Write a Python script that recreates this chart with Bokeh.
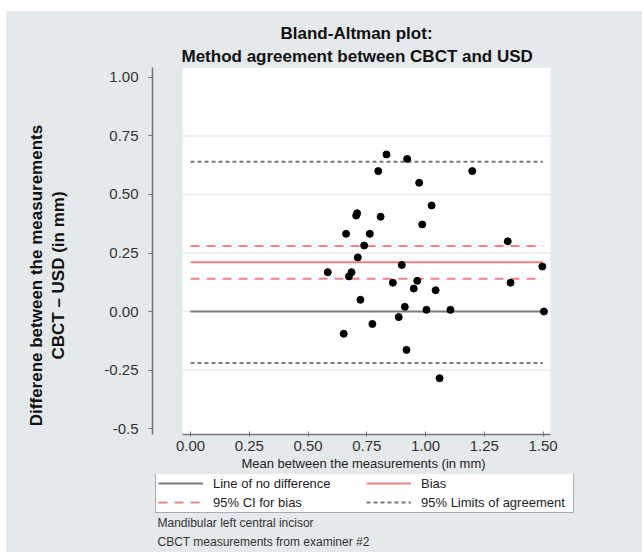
import math
from bokeh.plotting import figure
from bokeh.layouts import column, row
from bokeh.models import Range1d, FixedTicker, Legend, LegendItem, Title, Label
from bokeh.embed import file_html
from bokeh.resources import INLINE

# Bland-Altman data: mean of the two methods (mm) and difference CBCT - USD (mm)
mean_mm = [0.834, 0.922, 0.799, 1.199, 0.973, 1.026, 0.709, 0.705, 0.809, 0.986,
           0.662, 0.763, 1.350, 0.739, 0.712, 0.899, 1.497, 0.584, 0.685, 0.674,
           0.861, 1.362, 0.965, 0.950, 1.043, 0.723, 0.912, 1.004, 1.106, 1.504,
           0.886, 0.774, 0.652, 0.919, 1.060]
diff_mm = [0.671, 0.652, 0.600, 0.600, 0.550, 0.453, 0.420, 0.410, 0.405, 0.372,
           0.332, 0.332, 0.300, 0.282, 0.231, 0.199, 0.192, 0.168, 0.168, 0.150,
           0.123, 0.123, 0.131, 0.098, 0.091, 0.050, 0.020, 0.007, 0.007, 0.000,
           -0.024, -0.053, -0.095, -0.164, -0.285]

bias = 0.21
ci_bias = [0.14, 0.28]
limits_of_agreement = [-0.22, 0.64]

x_ticks = [0.0, 0.25, 0.5, 0.75, 1.0, 1.25, 1.5]
x_tick_labels = ["0.00", "0.25", "0.50", "0.75", "1.00", "1.25", "1.50"]
y_ticks = [-0.5, -0.25, 0.0, 0.25, 0.5, 0.75, 1.0]
y_tick_labels = ["-0.5", "-0.25", "0.00", "0.25", "0.50", "0.75", "1.00"]

title_lines = ["Bland-Altman plot:", "Method agreement between CBCT and USD"]
y_title_lines = ["Differene between the measurements", "CBCT \u2013 USD (in mm)"]
footnote_lines = ["Mandibular left central incisor", "CBCT measurements from examiner #2"]

BG = "#e4e9ec"
SALMON = "#f08080"
GREY_LINE = "#7a7a7a"
FONT = "Liberation Sans"

STRIP_W = 70          # width of the y-title strip
FRAME_W, FRAME_H = 422, 367
TOP, BOTTOM, LEFT, RIGHT = 56, 40, 76, 68
FULL_W = STRIP_W + LEFT + FRAME_W + RIGHT
KEY_H = 78


def blank(width, height, **kw):
    f = figure(width=width, height=height, output_backend="svg", toolbar_location=None,
               x_axis_type=None, y_axis_type=None,
               background_fill_color=BG, border_fill_color=BG,
               outline_line_color=None, **kw)
    f.grid.visible = False
    return f


# ---- main chart -------------------------------------------------------------
p = figure(width=LEFT + FRAME_W + RIGHT, height=TOP + FRAME_H + BOTTOM,
           x_range=Range1d(-0.1617, 1.6340), y_range=Range1d(-0.5256, 1.0427),
           output_backend="svg", toolbar_location=None,
           min_border_left=LEFT, min_border_top=TOP, min_border_right=RIGHT,
           min_border_bottom=BOTTOM,
           background_fill_color=BG, border_fill_color=BG, outline_line_color=None)

p.title.text = title_lines[0]
p.title.align = "left"
p.title.offset = 128
p.title.text_font = FONT
p.title.text_font_size = "17px"
p.title.text_font_style = "bold"
p.title.text_color = "#111111"
p.title.standoff = 0
p.add_layout(Title(text=title_lines[1], align="left", offset=29,
                   text_font=FONT, text_font_size="17px", text_font_style="bold",
                   text_color="#111111", standoff=4), "above")

# White plotting region, set in from the y axis
x_lo = x_ticks[0] - 0.034
x_hi = x_ticks[-1] + 0.032
p.quad(left=x_lo, right=x_hi, bottom=p.y_range.start, top=p.y_range.end,
       fill_color="white", line_color=None)

p.grid.visible = False
grid_vals = [v for v in y_ticks if -0.3 < v < 0.8]
p.segment(x0=x_lo, x1=x_hi, y0=grid_vals, y1=grid_vals,
          line_color="#ebebeb", line_width=1.5)

xa = p.xaxis[0]
xa.ticker = FixedTicker(ticks=x_ticks)
xa.major_label_overrides = dict(zip(x_ticks, x_tick_labels))
xa.bounds = (x_lo, x_hi)
xa.axis_line_color = "#777777"
xa.axis_line_width = 1.5
xa.major_tick_line_color = "#777777"
xa.major_tick_in = 3
xa.major_tick_out = 2
xa.minor_tick_line_color = None
xa.major_label_standoff = 4
xa.major_label_text_font = FONT
xa.major_label_text_font_size = "15px"
xa.major_label_text_color = "#333333"
xa.axis_label = "Mean between the measurements (in mm)"
xa.axis_label_text_font = FONT
xa.axis_label_text_font_size = "13px"
xa.axis_label_text_font_style = "normal"
xa.axis_label_text_color = "#222222"
xa.axis_label_standoff = 2

ya = p.yaxis[0]
ya.ticker = FixedTicker(ticks=y_ticks)
ya.major_label_overrides = dict(zip(y_ticks, y_tick_labels))
ya.axis_line_color = "#777777"
ya.axis_line_width = 1.5
ya.major_tick_line_color = "#777777"
ya.major_tick_in = 0
ya.major_tick_out = 4
ya.minor_tick_line_color = None
ya.major_label_standoff = 10
ya.major_label_text_font = FONT
ya.major_label_text_font_size = "15px"
ya.major_label_text_color = "#333333"

# Reference lines span the x tick range
x_span = [x_ticks[0], x_ticks[-1]]
p.line(x_span, [0, 0], line_color=GREY_LINE, line_width=2)
for c in ci_bias:
    p.line(x_span, [c, c], line_color=SALMON, line_width=2, line_dash="9 7")
p.line(x_span, [bias, bias], line_color=SALMON, line_width=2)
for l in limits_of_agreement:
    p.line(x_span, [l, l], line_color=GREY_LINE, line_width=2, line_dash="4 3")

p.scatter(mean_mm, diff_mm, size=7, fill_color="black", line_color="black")

# ---- y-axis title strip -----------------------------------------------------
ystrip = blank(STRIP_W, TOP + FRAME_H + BOTTOM,
               x_range=Range1d(0, STRIP_W), y_range=Range1d(0, FRAME_H),
               min_border_left=0, min_border_right=0,
               min_border_top=TOP, min_border_bottom=BOTTOM)
for i, txt in enumerate(y_title_lines):
    ystrip.add_layout(Label(x=30 + 22 * i, y=159, text=txt, angle=math.pi / 2,
                            text_align="center", text_baseline="middle",
                            text_font=FONT, text_font_size="17px",
                            text_font_style="bold", text_color="#111111"))

# ---- key and notes below the chart (frame covers the whole strip) -----------
k = blank(FULL_W, KEY_H, x_range=Range1d(0, FULL_W), y_range=Range1d(0, KEY_H),
          min_border=0)

# line styles for the key; NaN points keep them out of view
nan2 = [math.nan, math.nan]
key_zero = k.line(nan2, nan2, line_color=GREY_LINE, line_width=2)
key_bias = k.line(nan2, nan2, line_color=SALMON, line_width=2)
key_ci = k.line(nan2, nan2, line_color=SALMON, line_width=2, line_dash="9 7")
key_loa = k.line(nan2, nan2, line_color=GREY_LINE, line_width=2, line_dash="4 3")

legend = Legend(items=[
    LegendItem(label="Line of no difference", renderers=[key_zero]),
    LegendItem(label="Bias", renderers=[key_bias]),
    LegendItem(label="95% CI for bias", renderers=[key_ci]),
    LegendItem(label="95% Limits of agreement", renderers=[key_loa]),
], orientation="horizontal", ncols=2, location=(149, 39),
    margin=0, padding=2, spacing=3, glyph_width=45, glyph_height=16,
    label_standoff=10, label_width=150, label_height=16,
    label_text_font=FONT, label_text_font_size="13px", label_text_color="#222222",
    border_line_color="#555555", border_line_width=1,
    background_fill_color="white", background_fill_alpha=1.0)
k.add_layout(legend)

for i, txt in enumerate(footnote_lines):
    k.add_layout(Label(x=151, y=30 - 19 * i, text=txt, text_align="left",
                       text_baseline="middle", text_font=FONT,
                       text_font_size="12px", text_color="#333333"))

page = column(row(ystrip, p, spacing=0, styles={"background-color": BG}), k,
              spacing=0, margin=(11, 0, 0, 6), styles={"background-color": BG})

open("out.html", "w").write(file_html(page, INLINE))
